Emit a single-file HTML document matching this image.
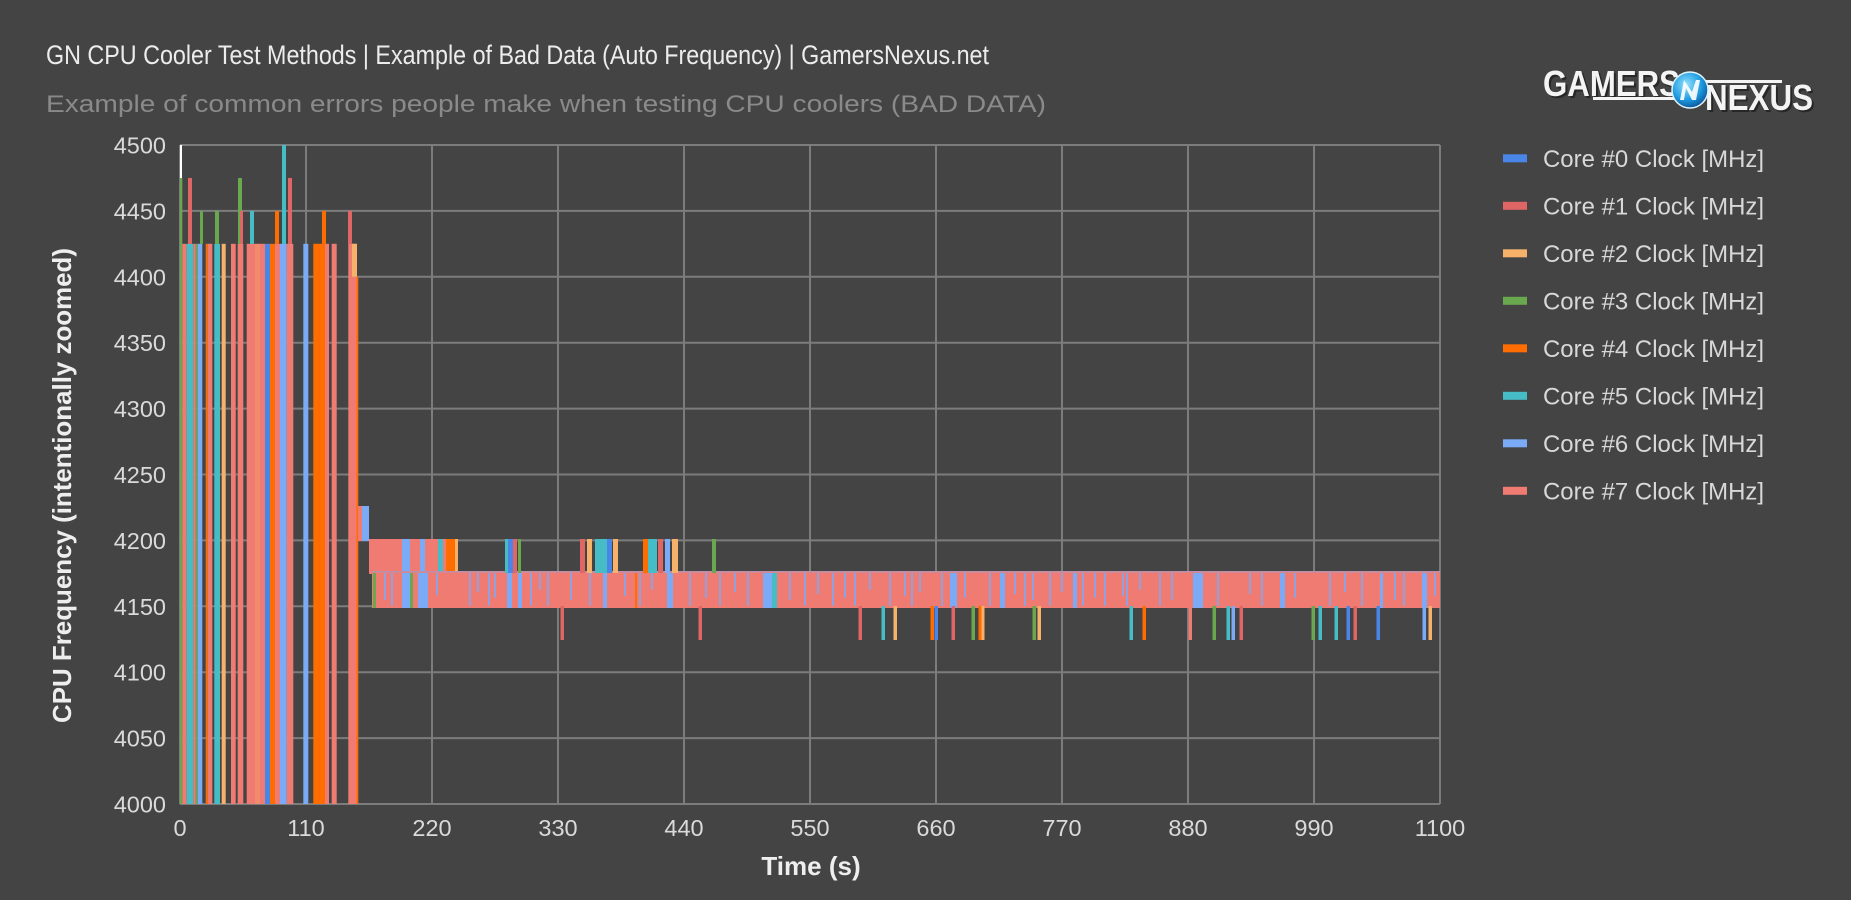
<!DOCTYPE html>
<html><head><meta charset="utf-8"><style>
html,body{margin:0;padding:0;background:#444;}
svg{display:block;}
text{font-family:"Liberation Sans",Arial,sans-serif;}
</style></head><body>
<svg width="1851" height="900" viewBox="0 0 1851 900" xmlns="http://www.w3.org/2000/svg">
<defs>
<radialGradient id="lg" cx="40%" cy="35%" r="70%"><stop offset="0" stop-color="#8fe0ff"/><stop offset="0.6" stop-color="#1f9be0"/><stop offset="1" stop-color="#0a4f94"/></radialGradient>
</defs>
<rect width="1851" height="900" fill="#444444"/>

<!-- titles -->
<text x="46" y="64" font-size="27" fill="#ececec" textLength="943" lengthAdjust="spacingAndGlyphs">GN CPU Cooler Test Methods | Example of Bad Data (Auto Frequency) | GamersNexus.net</text>
<text x="46" y="112" font-size="24" fill="#8a8a8a" textLength="1000" lengthAdjust="spacingAndGlyphs">Example of common errors people make when testing CPU coolers (BAD DATA)</text>

<!-- grid -->
<g stroke="#7c7c7c" stroke-width="2" fill="none">
<line x1="180" y1="145" x2="1440" y2="145"/>
<line x1="180" y1="210.9" x2="1440" y2="210.9"/>
<line x1="180" y1="276.8" x2="1440" y2="276.8"/>
<line x1="180" y1="342.7" x2="1440" y2="342.7"/>
<line x1="180" y1="408.6" x2="1440" y2="408.6"/>
<line x1="180" y1="474.5" x2="1440" y2="474.5"/>
<line x1="180" y1="540.4" x2="1440" y2="540.4"/>
<line x1="180" y1="606.3" x2="1440" y2="606.3"/>
<line x1="180" y1="672.2" x2="1440" y2="672.2"/>
<line x1="180" y1="738.1" x2="1440" y2="738.1"/>
<line x1="180" y1="804" x2="1440" y2="804"/>
<line x1="180" y1="145" x2="180" y2="804"/>
<line x1="306" y1="145" x2="306" y2="804"/>
<line x1="432" y1="145" x2="432" y2="804"/>
<line x1="558" y1="145" x2="558" y2="804"/>
<line x1="684" y1="145" x2="684" y2="804"/>
<line x1="810" y1="145" x2="810" y2="804"/>
<line x1="936" y1="145" x2="936" y2="804"/>
<line x1="1062" y1="145" x2="1062" y2="804"/>
<line x1="1188" y1="145" x2="1188" y2="804"/>
<line x1="1314" y1="145" x2="1314" y2="804"/>
<line x1="1440" y1="145" x2="1440" y2="804"/>
</g>

<!-- y tick labels -->
<g font-size="23.5" fill="#dadada" text-anchor="end">
<text x="166" y="153.5">4500</text>
<text x="166" y="219.4">4450</text>
<text x="166" y="285.3">4400</text>
<text x="166" y="351.2">4350</text>
<text x="166" y="417.1">4300</text>
<text x="166" y="483">4250</text>
<text x="166" y="548.9">4200</text>
<text x="166" y="614.8">4150</text>
<text x="166" y="680.7">4100</text>
<text x="166" y="746.6">4050</text>
<text x="166" y="812.5">4000</text>
</g>
<!-- x tick labels -->
<g font-size="23.5" fill="#dadada" text-anchor="middle">
<text x="180" y="836">0</text>
<text x="306" y="836">110</text>
<text x="432" y="836">220</text>
<text x="558" y="836">330</text>
<text x="684" y="836">440</text>
<text x="810" y="836">550</text>
<text x="936" y="836">660</text>
<text x="1062" y="836">770</text>
<text x="1188" y="836">880</text>
<text x="1314" y="836">990</text>
<text x="1440" y="836">1100</text>
</g>

<!-- axis titles -->
<text x="811" y="875" font-size="26" font-weight="bold" fill="#eeeeee" text-anchor="middle">Time (s)</text>
<text transform="translate(71,485.5) rotate(-90)" font-size="26" font-weight="bold" fill="#eeeeee" text-anchor="middle" textLength="475" lengthAdjust="spacingAndGlyphs">CPU Frequency (intentionally zoomed)</text>

<!-- early stripes region -->
<g>
<rect x="180" y="178" width="2.3" height="626" fill="#6aa84f"/>
<rect x="182.3" y="243.8" width="4.4" height="560.2" fill="#f07b72"/>
<rect x="186.7" y="243.8" width="6.6" height="560.2" fill="#46bdc6"/>
<rect x="193.3" y="243.8" width="2.4" height="560.2" fill="#f07b72"/>
<rect x="195.7" y="243.8" width="2" height="560.2" fill="#6aa84f"/>
<rect x="197.7" y="243.8" width="4.6" height="560.2" fill="#7baaf7"/>
<rect x="205.7" y="243.8" width="2" height="560.2" fill="#ff6d01"/>
<rect x="207.7" y="243.8" width="4.6" height="560.2" fill="#f07b72"/>
<rect x="214.3" y="243.8" width="5.7" height="560.2" fill="#46bdc6"/>
<rect x="221.7" y="243.8" width="4" height="560.2" fill="#f6b26b"/>
<rect x="231" y="243.8" width="4.7" height="560.2" fill="#f07b72"/>
<rect x="237.7" y="243.8" width="5.6" height="560.2" fill="#f07b72"/>
<rect x="246.7" y="243.8" width="8.3" height="560.2" fill="#f07b72"/>
<rect x="255" y="243.8" width="5" height="560.2" fill="#f28a6c"/>
<rect x="260" y="243.8" width="5" height="560.2" fill="#f07b72"/>
<rect x="265" y="243.8" width="5" height="560.2" fill="#4a86e8"/>
<rect x="270" y="243.8" width="5" height="560.2" fill="#ff6d01"/>
<rect x="275" y="243.8" width="5" height="560.2" fill="#f07b72"/>
<rect x="280" y="243.8" width="6.7" height="560.2" fill="#7baaf7"/>
<rect x="286.7" y="243.8" width="6.6" height="560.2" fill="#f07b72"/>
<rect x="303.3" y="243.8" width="5" height="560.2" fill="#7baaf7"/>
<rect x="313.3" y="243.8" width="11.7" height="560.2" fill="#ff6d01"/>
<rect x="325" y="243.8" width="4" height="560.2" fill="#f07b72"/>
<rect x="331.7" y="243.8" width="5" height="560.2" fill="#f07b72"/>
<rect x="348.3" y="243.8" width="8.4" height="560.2" fill="#f07b72"/>
<rect x="352" y="243.8" width="5" height="33" fill="#f6b26b"/>
<rect x="356.5" y="276.8" width="1.8" height="527.2" fill="#ff6d01"/>
<!-- spikes above 4425 -->
<rect x="180" y="145" width="2" height="33" fill="#ffffff"/>
<rect x="188" y="178" width="4" height="66" fill="#e06666"/>
<rect x="200" y="210.9" width="3" height="33" fill="#6aa84f"/>
<rect x="215" y="210.9" width="4" height="33" fill="#6aa84f"/>
<rect x="238" y="178" width="4" height="66" fill="#6aa84f"/>
<rect x="240" y="210.9" width="3" height="33" fill="#e06666"/>
<rect x="250" y="210.9" width="4" height="33" fill="#46bdc6"/>
<rect x="275" y="210.9" width="4" height="33" fill="#ff6d01"/>
<rect x="282" y="145" width="4" height="99" fill="#46bdc6"/>
<rect x="288" y="178" width="4" height="66" fill="#e06666"/>
<rect x="322" y="210.9" width="4" height="33" fill="#ff6d01"/>
<rect x="348" y="210.9" width="4" height="33" fill="#e06666"/>
</g>

<!-- transition -->
<rect x="358" y="506" width="4" height="35" fill="#f07b72"/>
<rect x="362" y="506" width="7" height="35" fill="#7baaf7"/>
<rect x="369" y="539" width="77" height="35" fill="#f07b72"/>
<rect x="402" y="539" width="8" height="35" fill="#7baaf7"/>
<rect x="420" y="539" width="5" height="35" fill="#7baaf7"/>
<rect x="438" y="539" width="5" height="35" fill="#46bdc6"/>
<rect x="446" y="539" width="9" height="35" fill="#ff6d01"/>
<rect x="455" y="539" width="3" height="35" fill="#f6b26b"/>

<!-- main band -->
<rect x="372" y="571" width="1068" height="37" fill="#f07b72"/>
<rect x="372" y="571" width="1068" height="1.5" fill="#7baaf7" opacity="0.45"/>
<rect x="373" y="573" width="3" height="35" fill="#6aa84f"/>
<g fill="#7baaf7">
<rect x="402" y="573" width="8" height="35"/>
<rect x="418" y="573" width="10" height="35"/>
<rect x="507" y="573" width="5" height="35"/>
<rect x="518" y="573" width="4" height="35"/>
<rect x="603" y="573" width="4" height="35"/>
<rect x="667" y="573" width="6" height="35"/>
<rect x="763" y="573" width="9" height="35"/>
<rect x="950" y="573" width="7" height="35"/>
<rect x="1000" y="573" width="5" height="35"/>
<rect x="1073" y="573" width="4" height="35"/>
<rect x="1193" y="573" width="10" height="35"/>
<rect x="1280" y="573" width="5" height="35"/>
<rect x="1380" y="573" width="3" height="35"/>
<rect x="1422" y="573" width="5" height="35"/>
</g>
<rect x="410" y="573" width="3" height="35" fill="#6aa84f"/>
<rect x="772" y="573" width="5" height="35" fill="#46bdc6"/>
<rect x="635" y="573" width="2" height="35" fill="#ff6d01"/>
<g stroke="#7baaf7" stroke-width="1.6">
<line x1="385" y1="573" x2="385" y2="600"/>
<line x1="392" y1="573" x2="392" y2="606"/>
<line x1="437" y1="573" x2="437" y2="595"/>
<line x1="470" y1="573" x2="470" y2="606"/>
<line x1="478" y1="573" x2="478" y2="592"/>
<line x1="489" y1="573" x2="489" y2="606"/>
<line x1="495" y1="573" x2="495" y2="598"/>
<line x1="531" y1="573" x2="531" y2="606"/>
<line x1="540" y1="573" x2="540" y2="590"/>
<line x1="548" y1="573" x2="548" y2="606"/>
<line x1="571" y1="573" x2="571" y2="600"/>
<line x1="590" y1="573" x2="590" y2="606"/>
<line x1="625" y1="573" x2="625" y2="596"/>
<line x1="640" y1="573" x2="640" y2="606"/>
<line x1="652" y1="573" x2="652" y2="590"/>
<line x1="690" y1="573" x2="690" y2="606"/>
<line x1="706" y1="573" x2="706" y2="598"/>
<line x1="720" y1="573" x2="720" y2="606"/>
<line x1="735" y1="573" x2="735" y2="592"/>
<line x1="748" y1="573" x2="748" y2="606"/>
<line x1="790" y1="573" x2="790" y2="600"/>
<line x1="805" y1="573" x2="805" y2="606"/>
<line x1="818" y1="573" x2="818" y2="594"/>
<line x1="833" y1="573" x2="833" y2="606"/>
<line x1="845" y1="573" x2="845" y2="598"/>
<line x1="855" y1="573" x2="855" y2="606"/>
<line x1="870" y1="573" x2="870" y2="590"/>
<line x1="890" y1="573" x2="890" y2="606"/>
<line x1="905" y1="573" x2="905" y2="596"/>
<line x1="912" y1="573" x2="912" y2="606"/>
<line x1="920" y1="573" x2="920" y2="592"/>
<line x1="942" y1="573" x2="942" y2="606"/>
<line x1="965" y1="573" x2="965" y2="598"/>
<line x1="990" y1="573" x2="990" y2="606"/>
<line x1="1015" y1="573" x2="1015" y2="594"/>
<line x1="1025" y1="573" x2="1025" y2="606"/>
<line x1="1033" y1="573" x2="1033" y2="600"/>
<line x1="1050" y1="573" x2="1050" y2="606"/>
<line x1="1062" y1="573" x2="1062" y2="592"/>
<line x1="1083" y1="573" x2="1083" y2="606"/>
<line x1="1095" y1="573" x2="1095" y2="598"/>
<line x1="1105" y1="573" x2="1105" y2="606"/>
<line x1="1123" y1="573" x2="1123" y2="596"/>
<line x1="1127" y1="573" x2="1127" y2="606"/>
<line x1="1140" y1="573" x2="1140" y2="590"/>
<line x1="1160" y1="573" x2="1160" y2="606"/>
<line x1="1172" y1="573" x2="1172" y2="600"/>
<line x1="1218" y1="573" x2="1218" y2="606"/>
<line x1="1250" y1="573" x2="1250" y2="594"/>
<line x1="1262" y1="573" x2="1262" y2="606"/>
<line x1="1295" y1="573" x2="1295" y2="598"/>
<line x1="1330" y1="573" x2="1330" y2="606"/>
<line x1="1345" y1="573" x2="1345" y2="592"/>
<line x1="1362" y1="573" x2="1362" y2="606"/>
<line x1="1395" y1="573" x2="1395" y2="600"/>
<line x1="1404" y1="573" x2="1404" y2="606"/>
<line x1="1435" y1="573" x2="1435" y2="596"/>
</g>

<!-- blips up to 4200 -->
<rect x="505" y="539" width="3" height="34" fill="#46bdc6"/>
<rect x="508" y="539" width="5" height="34" fill="#4a86e8"/>
<rect x="513" y="539" width="4" height="34" fill="#e06666"/>
<rect x="518" y="539" width="3" height="34" fill="#6aa84f"/>
<rect x="580" y="539" width="5" height="34" fill="#e06666"/>
<rect x="587" y="539" width="5" height="34" fill="#f6b26b"/>
<rect x="595" y="539" width="12" height="34" fill="#46bdc6"/>
<rect x="607" y="539" width="5" height="34" fill="#4a86e8"/>
<rect x="613" y="539" width="5" height="34" fill="#f6b26b"/>
<rect x="643" y="539" width="5" height="34" fill="#ff6d01"/>
<rect x="648" y="539" width="9" height="34" fill="#46bdc6"/>
<rect x="658" y="539" width="5" height="34" fill="#e06666"/>
<rect x="665" y="539" width="5" height="34" fill="#7baaf7"/>
<rect x="672" y="539" width="6" height="34" fill="#f6b26b"/>
<rect x="712" y="539" width="4" height="34" fill="#6aa84f"/>

<!-- dips down to 4125 -->
<g>
<rect x="560.5" y="606" width="3.5" height="34" fill="#e06666"/>
<rect x="698.5" y="606" width="3.5" height="34" fill="#e06666"/>
<rect x="858.5" y="606" width="3.5" height="34" fill="#e06666"/>
<rect x="881.5" y="606" width="3.5" height="34" fill="#46bdc6"/>
<rect x="893.5" y="606" width="3.5" height="34" fill="#f6b26b"/>
<rect x="930.5" y="606" width="3.5" height="34" fill="#ff6d01"/>
<rect x="934.5" y="606" width="3.5" height="34" fill="#4a86e8"/>
<rect x="951.5" y="606" width="3.5" height="34" fill="#e06666"/>
<rect x="971.5" y="606" width="3.5" height="34" fill="#6aa84f"/>
<rect x="978.5" y="606" width="3.5" height="34" fill="#ff6d01"/>
<rect x="981.5" y="606" width="3" height="34" fill="#f6b26b"/>
<rect x="1032.5" y="606" width="3.5" height="34" fill="#6aa84f"/>
<rect x="1037.5" y="606" width="3.5" height="34" fill="#f6b26b"/>
<rect x="1129.5" y="606" width="3.5" height="34" fill="#46bdc6"/>
<rect x="1142.5" y="606" width="3.5" height="34" fill="#ff6d01"/>
<rect x="1188.5" y="606" width="3.5" height="34" fill="#f07b72"/>
<rect x="1212.5" y="606" width="3.5" height="34" fill="#6aa84f"/>
<rect x="1226.5" y="606" width="3.5" height="34" fill="#46bdc6"/>
<rect x="1231.5" y="606" width="3.5" height="34" fill="#7baaf7"/>
<rect x="1239.5" y="606" width="3.5" height="34" fill="#e06666"/>
<rect x="1311.5" y="606" width="3.5" height="34" fill="#6aa84f"/>
<rect x="1318.5" y="606" width="3.5" height="34" fill="#46bdc6"/>
<rect x="1334.5" y="606" width="3.5" height="34" fill="#46bdc6"/>
<rect x="1346.5" y="606" width="3.5" height="34" fill="#4a86e8"/>
<rect x="1353.5" y="606" width="3.5" height="34" fill="#e06666"/>
<rect x="1376.5" y="606" width="3.5" height="34" fill="#4a86e8"/>
<rect x="1422.5" y="606" width="3.5" height="34" fill="#7baaf7"/>
<rect x="1428.5" y="606" width="3.5" height="34" fill="#f6b26b"/>
</g>

<!-- legend -->
<g>
<rect x="1503" y="154.3" width="24" height="8" fill="#4a86e8"/>
<rect x="1503" y="201.8" width="24" height="8" fill="#e06666"/>
<rect x="1503" y="249.3" width="24" height="8" fill="#f6b26b"/>
<rect x="1503" y="296.8" width="24" height="8" fill="#6aa84f"/>
<rect x="1503" y="344.3" width="24" height="8" fill="#ff6d01"/>
<rect x="1503" y="391.8" width="24" height="8" fill="#46bdc6"/>
<rect x="1503" y="439.3" width="24" height="8" fill="#7baaf7"/>
<rect x="1503" y="486.8" width="24" height="8" fill="#f07b72"/>
</g>
<g font-size="24" fill="#d8d8d8">
<text x="1543" y="167" textLength="221" lengthAdjust="spacingAndGlyphs">Core #0 Clock [MHz]</text>
<text x="1543" y="214.5" textLength="221" lengthAdjust="spacingAndGlyphs">Core #1 Clock [MHz]</text>
<text x="1543" y="262" textLength="221" lengthAdjust="spacingAndGlyphs">Core #2 Clock [MHz]</text>
<text x="1543" y="309.5" textLength="221" lengthAdjust="spacingAndGlyphs">Core #3 Clock [MHz]</text>
<text x="1543" y="357" textLength="221" lengthAdjust="spacingAndGlyphs">Core #4 Clock [MHz]</text>
<text x="1543" y="404.5" textLength="221" lengthAdjust="spacingAndGlyphs">Core #5 Clock [MHz]</text>
<text x="1543" y="452" textLength="221" lengthAdjust="spacingAndGlyphs">Core #6 Clock [MHz]</text>
<text x="1543" y="499.5" textLength="221" lengthAdjust="spacingAndGlyphs">Core #7 Clock [MHz]</text>
</g>

<!-- logo -->
<g>
<text x="1545" y="98" font-size="36" font-weight="bold" fill="#111" opacity="0.55" textLength="137" lengthAdjust="spacingAndGlyphs">GAMERS</text>
<text x="1543" y="96" font-size="36" font-weight="bold" fill="#f4f4f4" textLength="137" lengthAdjust="spacingAndGlyphs">GAMERS</text>
<rect x="1593" y="97" width="92" height="3" fill="#f4f4f4"/>
<rect x="1700" y="80" width="82" height="3" fill="#f4f4f4"/>
<text x="1707" y="112" font-size="36" font-weight="bold" fill="#111" opacity="0.55" textLength="108" lengthAdjust="spacingAndGlyphs">NEXUS</text>
<text x="1705" y="110" font-size="36" font-weight="bold" fill="#f4f4f4" textLength="108" lengthAdjust="spacingAndGlyphs">NEXUS</text>
<circle cx="1690" cy="90" r="18" fill="url(#lg)" stroke="#dff4ff" stroke-width="1.5"/>
<path d="M1680 100 L1684 80 L1692 92 L1696 80 L1700 80 L1696 100 L1692 100 L1686 88 L1684 100 Z" fill="#ffffff" opacity="0.9"/>
</g>
</svg>
</body></html>
